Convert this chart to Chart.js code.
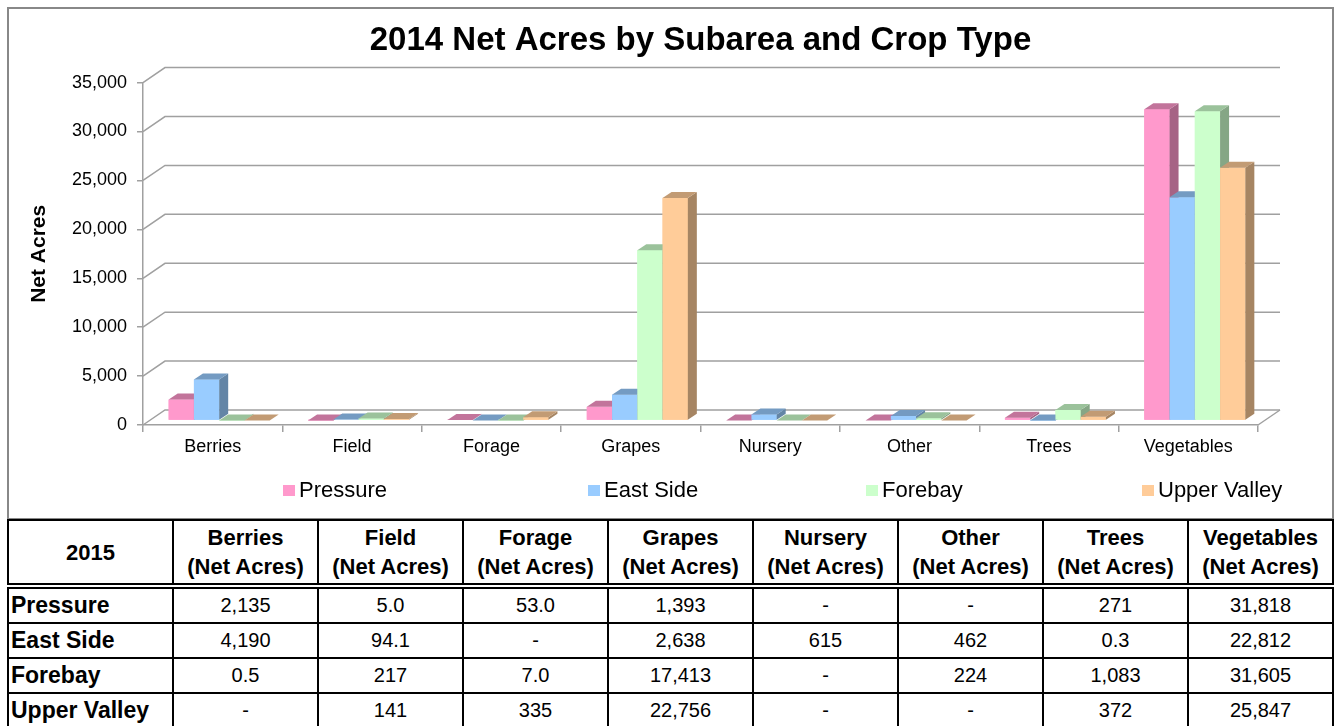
<!DOCTYPE html>
<html>
<head>
<meta charset="utf-8">
<script src="https://cdn.jsdelivr.net/npm/chart.js@4.4.0/dist/chart.umd.min.js"></script>
<style>
  body { margin: 0; background: #fff; font-family: "Liberation Sans", Arial, sans-serif; }
  #wrap { position: relative; width: 1338px; height: 726px; overflow: hidden; }
  #frame { position: absolute; left: 7px; top: 7px; width: 1327px; height: 513px; border: 2px solid #888; box-sizing: border-box; }
  #chart { position: absolute; left: 0; top: 0; }
  .leg { position: absolute; top: 478px; font-size: 22px; line-height: 24px; color: #000; white-space: nowrap; }
  .leg i { display: inline-block; width: 12px; height: 11px; margin-right: 4px; vertical-align: 1px; }
  table { position: absolute; left: 7px; top: 519px; border-collapse: collapse; table-layout: fixed; }
  td, th { border: 2px solid #000; padding: 0; color: #000; }
  th { font-size: 22px; font-weight: bold; line-height: 29px; height: 62px; border-bottom: 6px double #000; }
  td { font-size: 20px; text-align: center; height: 33px; }
  td.lab { font-size: 23px; font-weight: bold; text-align: left; padding-left: 2px; }
</style>
</head>
<body>
<div id="wrap">
  <div id="frame"></div>
  <canvas id="chart" width="1338" height="518"></canvas>
  <div id="legend"></div>
  <table id="tbl"></table>
</div>
<script>
// crop types and net acres per subarea (null = "-")
let categories = ['Berries', 'Field', 'Forage', 'Grapes', 'Nursery', 'Other', 'Trees', 'Vegetables'];
let seriesNames = ['Pressure', 'East Side', 'Forebay', 'Upper Valley'];
let pressure = [2135, 5.0, 53.0, 1393, null, null, 271, 31818];
let eastSide = [4190, 94.1, null, 2638, 615, 462, 0.3, 22812];
let forebay = [0.5, 217, 7.0, 17413, null, 224, 1083, 31605];
let upperValley = [null, 141, 335, 22756, null, null, 372, 25847];
let yTicks = [0, 5000, 10000, 15000, 20000, 25000, 30000, 35000];

const series = [pressure, eastSide, forebay, upperValley];
const colors = ['#FF99CC', '#99CCFF', '#CCFFCC', '#FFCC99'];
const legendLeft = [283, 588, 866, 1142];

// 3d look: floor/wall depth and bar depth
const wall = { dx: 22, dy: -15 };
const bar = { dx: 9, dy: -6 };
const shift = { x: (wall.dx - bar.dx) / 2, y: (wall.dy - bar.dy) / 2 };
const lineColor = '#a0a0a0';

function shade(hex, f) {
    const n = parseInt(hex.slice(1), 16);
    const r = Math.round(((n >> 16) & 255) * f);
    const g = Math.round(((n >> 8) & 255) * f);
    const b = Math.round((n & 255) * f);
    return 'rgb(' + r + ',' + g + ',' + b + ')';
}

const fake3d = {
    id: 'fake3d',
    beforeDatasetsDraw(chart) {
        const { ctx, chartArea: a, scales: { y } } = chart;
        ctx.save();
        ctx.strokeStyle = lineColor;
        ctx.lineWidth = 1.5;
        y.ticks.forEach(t => {
            const py = y.getPixelForValue(t.value);
            ctx.beginPath();
            ctx.moveTo(a.left, py);
            ctx.lineTo(a.left + wall.dx, py + wall.dy);
            ctx.lineTo(a.right + wall.dx, py + wall.dy);
            ctx.stroke();
        });
        ctx.beginPath();
        ctx.moveTo(a.right, a.bottom);
        ctx.lineTo(a.right + wall.dx, a.bottom + wall.dy);
        ctx.stroke();
        ctx.restore();
        ctx.save();
        ctx.translate(shift.x, shift.y);
    },
    afterDatasetsDraw(chart) {
        const ctx = chart.ctx;
        const metas = chart.data.datasets.map((d, i) => chart.getDatasetMeta(i));
        categories.forEach((c, j) => {
            metas.forEach((meta, i) => {
                const el = meta.data[j];
                const l = el.x - el.width / 2, r = el.x + el.width / 2;
                const t = el.y, b = el.base;
                ctx.fillStyle = colors[i];
                ctx.fillRect(l, t, r - l, b - t);
                ctx.fillStyle = shade(colors[i], 0.65);
                ctx.beginPath();
                ctx.moveTo(r, t); ctx.lineTo(r + bar.dx, t + bar.dy);
                ctx.lineTo(r + bar.dx, b + bar.dy); ctx.lineTo(r, b);
                ctx.closePath(); ctx.fill();
                ctx.fillStyle = shade(colors[i], 0.76);
                ctx.beginPath();
                ctx.moveTo(l, t); ctx.lineTo(l + bar.dx, t + bar.dy);
                ctx.lineTo(r + bar.dx, t + bar.dy); ctx.lineTo(r, t);
                ctx.closePath(); ctx.fill();
            });
        });
        ctx.restore();
    }
};

Chart.defaults.font.family = '"Liberation Sans", Arial, sans-serif';
Chart.defaults.color = '#000';

const ctx = document.getElementById('chart').getContext('2d');
const myChart = new Chart(ctx, {
    type: 'bar',
    data: {
        labels: categories,
        datasets: series.map((s, i) => ({
            label: seriesNames[i],
            data: s.map(v => v ?? 0),
            backgroundColor: colors[i],
            borderWidth: 0,
            categoryPercentage: 0.725,
            barPercentage: 1
        }))
    },
    options: {
        responsive: false,
        animation: false,
        devicePixelRatio: 1,
        layout: { padding: { left: 0, right: 80, top: 0, bottom: 54 } },
        scales: {
            x: {
                grid: { drawOnChartArea: false, drawTicks: true, tickLength: 7, color: lineColor, lineWidth: 1.5 },
                border: { color: lineColor, width: 1.5 },
                ticks: { font: { size: 18 }, padding: 4 },
                afterFit(scale) { scale.height = 39; }
            },
            y: {
                min: 0,
                max: 35000,
                afterBuildTicks(scale) { scale.ticks = yTicks.map(v => ({ value: v })); },
                grid: { drawOnChartArea: false, drawTicks: true, tickLength: 6, color: lineColor, lineWidth: 1.5 },
                border: { color: lineColor, width: 1.5 },
                ticks: {
                    font: { size: 18 },
                    padding: 10,
                    callback: v => v.toLocaleString('en-US')
                },
                title: {
                    display: true,
                    text: 'Net Acres',
                    font: { size: 21, weight: 'bold' },
                    padding: { top: 27, bottom: 0 }
                },
                afterFit(scale) { scale.width = 143; }
            }
        },
        plugins: {
            legend: { display: false },
            tooltip: { enabled: false },
            title: {
                display: true,
                fullSize: false,
                text: '2014 Net Acres by Subarea and Crop Type',
                font: { size: 33, weight: 'bold' },
                padding: { top: 21, bottom: 22 }
            }
        }
    },
    plugins: [fake3d]
});

// legend
const legend = document.getElementById('legend');
seriesNames.forEach((n, i) => {
    const d = document.createElement('div');
    d.className = 'leg';
    d.style.left = legendLeft[i] + 'px';
    d.innerHTML = '<i style="background:' + colors[i] + '"></i>' + n;
    legend.appendChild(d);
});

// data table under the chart
function fmt(v) {
    if (v === null) return '-';
    if (v < 100) return v.toFixed(1);
    return Math.round(v).toLocaleString('en-US');
}
const tbl = document.getElementById('tbl');
let html = '<colgroup><col style="width:165px">' + categories.map(() => '<col style="width:145px">').join('') + '</colgroup>';
html += '<tr><th>2015</th>' + categories.map(c => '<th>' + c + '<br>(Net Acres)</th>').join('') + '</tr>';
series.forEach((s, i) => {
    html += '<tr><td class="lab">' + seriesNames[i] + '</td>' + s.map(v => '<td>' + fmt(v) + '</td>').join('') + '</tr>';
});
tbl.innerHTML = html;
</script>
</body>
</html>
